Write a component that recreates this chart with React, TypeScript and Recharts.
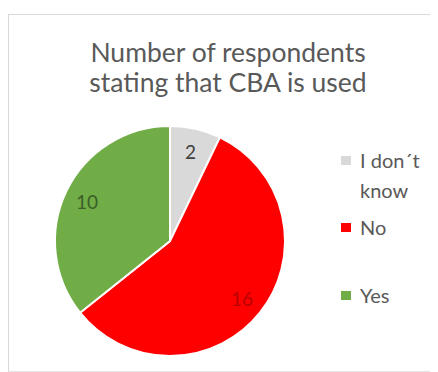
import React from "react";
import { PieChart, Pie, Cell, Legend } from "recharts";

const categories = ["I don´t know", "No", "Yes"];
const counts = [2, 16, 10];
const sliceColors = ["#d9d9d9", "#ff0000", "#70ad47"];
const labelColors = ["#404040", "#b80000", "#3b5e28"];
const titleLines = ["Number of respondents", "stating that CBA is used"];

const data = categories.map((name, i) => ({ name, value: counts[i] }));

const RAD = Math.PI / 180;

const renderLabel = (props: any) => {
  const { cx, cy, midAngle, outerRadius, index, value } = props;
  const r = outerRadius * 0.8;
  const x = cx + r * Math.cos(-midAngle * RAD);
  const y = cy + r * Math.sin(-midAngle * RAD);
  return (
    <text
      x={x}
      y={y}
      fill={labelColors[index]}
      textAnchor="middle"
      dominantBaseline="central"
      fontSize={19}
      fontFamily="Lato, sans-serif"
    >
      {value}
    </text>
  );
};

const renderLegend = (props: any) => {
  const { payload } = props;
  // Excel spaces the entries unevenly, the first one wraps to two lines
  const gaps = [0, 7, 38];
  return (
    <div style={{ fontFamily: "Lato, sans-serif", fontSize: 20, color: "#595959" }}>
      {(payload || []).map((entry: any, i: number) => (
        <div key={entry.value} style={{ display: "flex", alignItems: "flex-start", marginTop: gaps[i] }}>
          <span
            style={{
              display: "inline-block",
              width: 10,
              height: 9,
              background: sliceColors[i],
              marginTop: 11,
              marginRight: 9,
              flexShrink: 0,
            }}
          />
          <span style={{ lineHeight: "30px", width: 70 }}>{entry.value}</span>
        </div>
      ))}
    </div>
  );
};

export default function App() {
  return (
    <div
      style={{
        marginTop: 6,
        width: 429,
        height: 356,
        borderTop: "1px solid #d9d9d9",
        borderLeft: "1px solid #d9d9d9",
        borderBottom: "1px solid #e6e6e6",
        position: "relative",
        background: "#fff",
      }}
    >
      <div
        style={{
          position: "absolute",
          left: 0,
          top: 22,
          width: 438,
          textAlign: "center",
          fontFamily: "Lato, sans-serif",
          fontSize: 26.5,
          lineHeight: "30px",
          color: "#595959",
        }}
      >
        {titleLines.map((t) => (
          <div key={t}>{t}</div>
        ))}
      </div>
      <PieChart width={429} height={356} margin={{ top: 0, right: 0, bottom: 0, left: 0 }}>
        <Pie
          data={data}
          dataKey="value"
          nameKey="name"
          cx={161}
          cy={226}
          outerRadius={115}
          startAngle={90}
          endAngle={-270}
          stroke="#ffffff"
          strokeWidth={2}
          label={renderLabel}
          labelLine={false}
          isAnimationActive={false}
        >
          {data.map((d, i) => (
            <Cell key={d.name} fill={sliceColors[i]} />
          ))}
        </Pie>
        <Legend
          layout="vertical"
          content={renderLegend}
          wrapperStyle={{ position: "absolute", left: 332, top: 130, width: 100 }}
        />
      </PieChart>
    </div>
  );
}
